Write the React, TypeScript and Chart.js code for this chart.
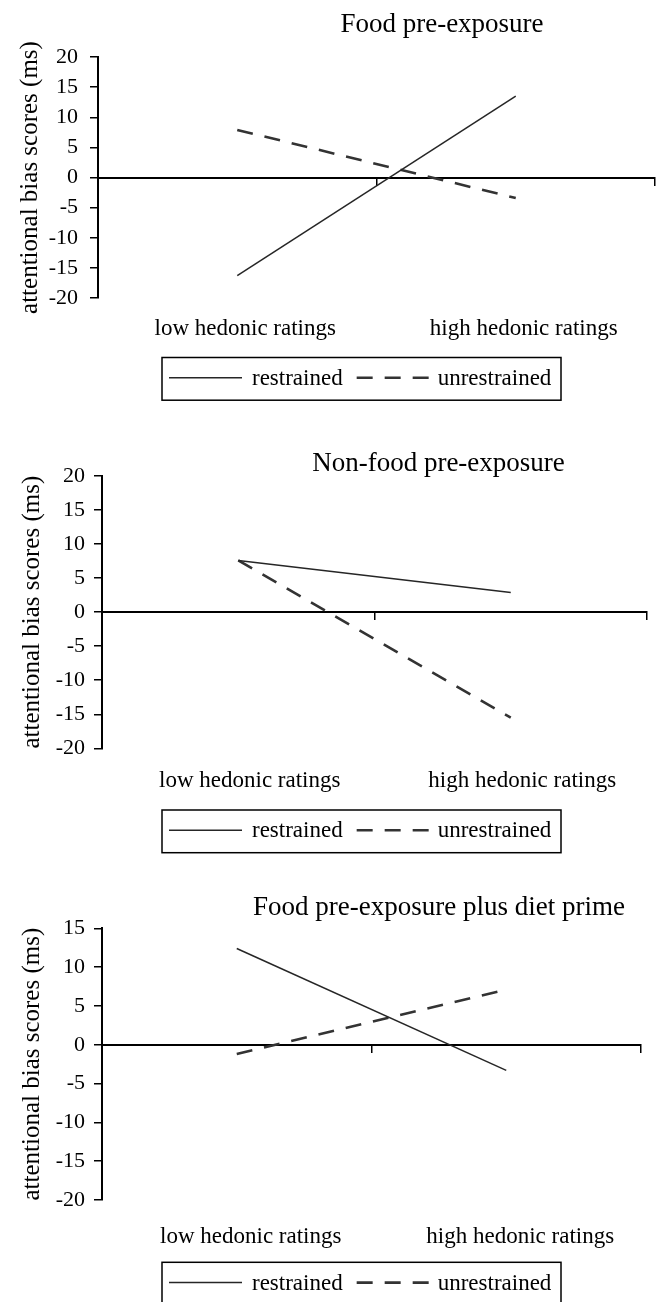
import React, { useEffect, useRef } from 'react';
import { Chart, registerables } from 'chart.js';

Chart.register(...registerables);

// ---- data ----
const categories = ['low hedonic ratings', 'high hedonic ratings'];
const seriesNames = ['restrained', 'unrestrained'];
const panelTitles = ['Food pre-exposure', 'Non-food pre-exposure', 'Food pre-exposure plus diet prime'];
const yAxisTitle = 'attentional bias scores (ms)';

const foodRestrained = [-16.3, 13.5];
const foodUnrestrained = [7.9, -3.4];
const nonFoodRestrained = [7.6, 2.9];
const nonFoodUnrestrained = [7.6, -15.5];
const dietRestrained = [12.4, -3.3];
const dietUnrestrained = [-1.2, 7.1];

const yMins = [-20, -20, -20];
const yMaxs = [20, 20, 15];
const yStep = 5;

// ---- layout (per panel) ----
const X_AXIS_HEIGHT = 70;
const panels = [
  {
    title: panelTitles[0], restrained: foodRestrained, unrestrained: foodUnrestrained,
    yMin: yMins[0], yMax: yMaxs[0],
    top: 0, height: 420, yWidth: 98, padRight: 9, padTop: 57, padBottom: 52,
    titleX: 442, titleY: 32, tickPad: 12, yTitlePad: 15, xLabelPad: 17, labelOffset: 8, legendTop: 357.5,
  },
  {
    title: panelTitles[1], restrained: nonFoodRestrained, unrestrained: nonFoodUnrestrained,
    yMin: yMins[1], yMax: yMaxs[1],
    top: 420, height: 440, yWidth: 102, padRight: 17, padTop: 56, padBottom: 41.7,
    titleX: 438.5, titleY: 50.7, tickPad: 9, yTitlePad: 17, xLabelPad: 19, labelOffset: 11.5, legendTop: 390,
  },
  {
    title: panelTitles[2], restrained: dietRestrained, unrestrained: dietUnrestrained,
    yMin: yMins[2], yMax: yMaxs[2],
    top: 860, height: 442, yWidth: 102, padRight: 23, padTop: 68.3, padBottom: 32,
    titleX: 439, titleY: 55, tickPad: 9, yTitlePad: 17, xLabelPad: 23, labelOffset: 14, legendTop: 402.3,
  },
];

const FONT = "'Liberation Serif', 'Times New Roman', serif";

const decorPlugin = {
  id: 'panelDecor',
  afterDraw(chart: any, _args: any, opts: any) {
    const ctx = chart.ctx as CanvasRenderingContext2D;
    ctx.save();
    // title
    ctx.fillStyle = '#000';
    ctx.font = `27px ${FONT}`;
    ctx.textAlign = 'center';
    ctx.textBaseline = 'alphabetic';
    ctx.fillText(opts.title, opts.titleX, opts.titleY);

    // legend box
    const boxLeft = 162;
    const boxTop = opts.legendTop;
    const boxW = 399;
    const boxH = 42.7;
    ctx.lineWidth = 1.5;
    ctx.strokeStyle = '#000';
    ctx.setLineDash([]);
    ctx.strokeRect(boxLeft, boxTop, boxW, boxH);

    const cy = boxTop + 20.3;
    ctx.font = `23px ${FONT}`;
    ctx.textAlign = 'left';
    ctx.textBaseline = 'middle';
    const ds = chart.data.datasets;
    const sampleLens = [73, 76];
    const gapsAfterLine = [10, 5];
    let x = boxLeft + 7;
    ds.forEach((d: any, i: number) => {
      ctx.save();
      ctx.strokeStyle = d.borderColor;
      ctx.lineWidth = d.borderWidth;
      ctx.setLineDash(d.borderDash || []);
      ctx.beginPath();
      ctx.moveTo(x, cy);
      ctx.lineTo(x + sampleLens[i], cy);
      ctx.stroke();
      ctx.restore();
      x += sampleLens[i] + gapsAfterLine[i];
      ctx.fillStyle = '#000';
      ctx.fillText(d.label, x, cy + 1);
      x += ctx.measureText(d.label).width + 14;
    });
    ctx.restore();
  },
};

function Panel({ p }: { p: any }) {
  const ref = useRef<HTMLCanvasElement>(null);
  useEffect(() => {
    const chart = new Chart(ref.current as HTMLCanvasElement, {
      type: 'line',
      data: {
        labels: categories,
        datasets: [
          {
            label: seriesNames[0],
            data: p.restrained,
            borderColor: '#262626',
            borderWidth: 1.5,
            pointRadius: 0,
            fill: false,
            tension: 0,
            xAxisID: 'x',
            yAxisID: 'y',
          },
          {
            label: seriesNames[1],
            data: p.unrestrained,
            borderColor: '#333333',
            borderWidth: 2.6,
            borderDash: [16, 12],
            pointRadius: 0,
            fill: false,
            tension: 0,
            xAxisID: 'x',
            yAxisID: 'y',
          },
        ],
      },
      options: {
        animation: false,
        responsive: false,
        devicePixelRatio: 1,
        font: { family: FONT },
        layout: { padding: { left: 0, right: p.padRight, top: p.padTop, bottom: p.padBottom } },
        plugins: {
          legend: { display: false },
          title: { display: false },
          tooltip: { enabled: false },
          panelDecor: { title: p.title, titleX: p.titleX, titleY: p.titleY, legendTop: p.legendTop },
        } as any,
        scales: {
          x: {
            type: 'category',
            position: 'bottom',
            offset: true,
            grid: { display: false, drawTicks: false },
            border: { display: false },
            ticks: {
              color: '#000',
              font: { family: FONT, size: 23 },
              padding: p.xLabelPad,
              labelOffset: p.labelOffset,
              maxRotation: 0,
              autoSkip: false,
            },
            afterFit: (s: any) => { s.height = X_AXIS_HEIGHT; },
          },
          x2: {
            type: 'category',
            axis: 'x',
            position: { y: 0 },
            offset: true,
            grid: {
              display: true,
              offset: true,
              drawOnChartArea: false,
              drawTicks: true,
              tickLength: 7,
              color: '#000',
              lineWidth: 1.5,
            },
            border: { display: true, color: '#000', width: 2 },
            ticks: { display: false },
          },
          y: {
            type: 'linear',
            position: 'left',
            min: p.yMin,
            max: p.yMax,
            ticks: {
              stepSize: yStep,
              color: '#000',
              font: { family: FONT, size: 22 },
              padding: p.tickPad,
            },
            grid: {
              drawOnChartArea: false,
              drawTicks: true,
              tickLength: 8,
              color: '#000',
              lineWidth: 1.5,
            },
            border: { display: true, color: '#000', width: 2 },
            title: {
              display: true,
              text: yAxisTitle,
              color: '#000',
              font: { family: FONT, size: 25 },
              padding: { top: p.yTitlePad, bottom: 0 },
            },
            afterFit: (s: any) => { s.width = p.yWidth; },
          },
        } as any,
      },
      plugins: [decorPlugin as any],
    });
    return () => chart.destroy();
  }, []);
  return (
    <canvas
      ref={ref}
      width={664}
      height={p.height}
      style={{ position: 'absolute', left: 0, top: p.top, width: 664, height: p.height }}
    />
  );
}

export default function App() {
  return (
    <div style={{ position: 'absolute', left: 0, top: 0, width: 664, height: 1302, background: '#fff', overflow: 'hidden' }}>
      {panels.map((p, i) => (
        <Panel key={i} p={p} />
      ))}
    </div>
  );
}
